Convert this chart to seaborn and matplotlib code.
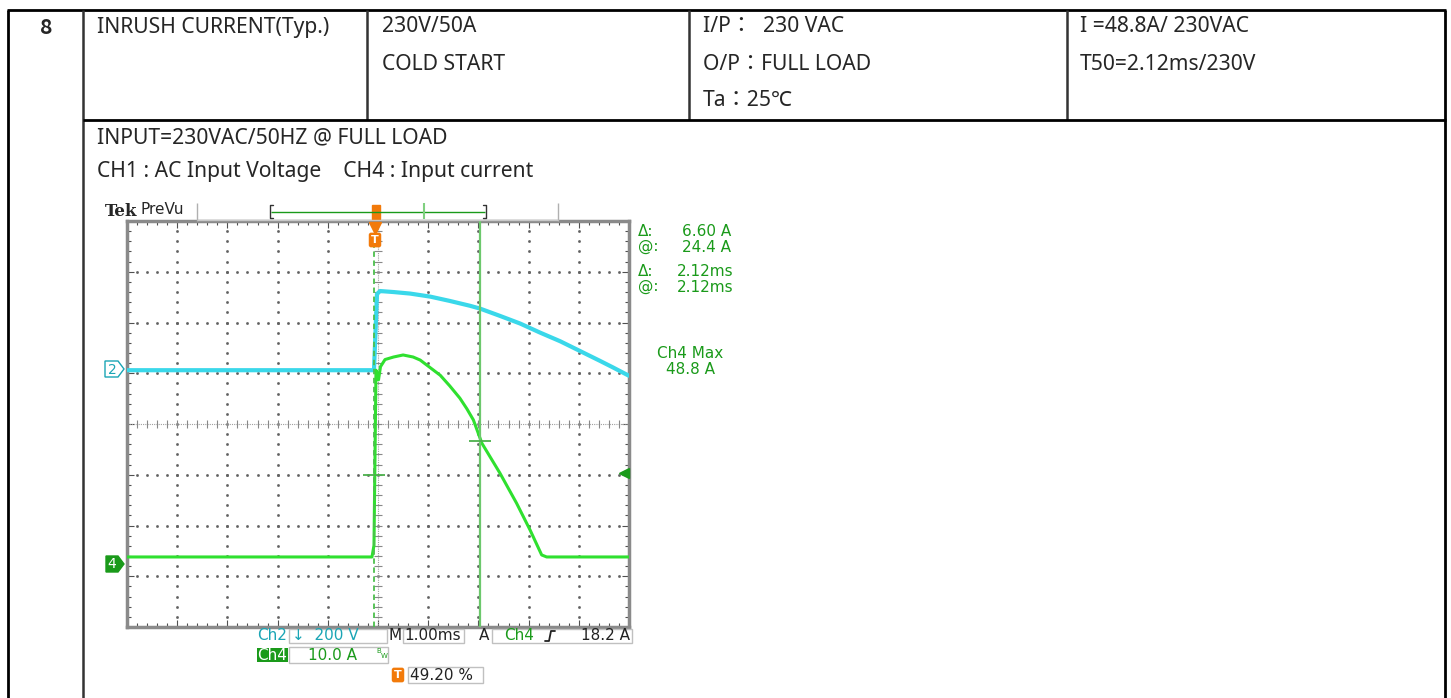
import numpy as np
import pandas as pd
import seaborn as sns
import matplotlib.pyplot as plt
from matplotlib.patches import Rectangle, Polygon

# Scope traces (time in ms relative to the trigger)
ch2_time_ms = [-4.92, -2.0, 0.0, 0.02, 0.06, 0.12, 0.39, 0.72, 1.12, 1.51, 1.91, 2.11,
               2.51, 2.91, 3.31, 3.71, 4.10, 4.50, 4.76, 5.08]
ch2_volts = [0, 0, 0, 100, 300, 312, 308, 302, 290, 273, 254, 243,
             214, 184, 148, 114, 76, 37, 11, -22]

ch4_time_ms = [-4.92, -0.04, 0.0, 0.04, 0.09, 0.13, 0.22, 0.39, 0.58, 0.78, 0.92, 1.12,
               1.32, 1.51, 1.71, 1.85, 1.98, 2.15, 2.51, 2.84, 3.11, 3.34, 3.44, 5.08]
ch4_amps = [1.6, 1.6, 3.9, 38.4, 36.5, 39.1, 40.5, 41.0, 41.4, 41.0, 40.4, 38.9,
            37.4, 35.3, 32.9, 30.8, 28.6, 24.0, 18.1, 12.2, 6.9, 2.0, 1.6, 1.6]

# Scope settings
ch2_scale = 200      # V/div
ch4_scale = 10       # A/div
ch2_pos = 1.06       # ground position, div
ch4_pos = -2.78
t_left, t_right = -4.92, 5.08
cursor_t = 2.12
cursor_amps = [24.4, 17.8]
trig_level = 18.2

# Table text
row_no = "8"
item = "INRUSH CURRENT(Typ.)"
spec = ["230V/50A", "COLD START"]
condition = ["I/P：  230 VAC", "O/P：FULL LOAD", "Ta：25℃"]
result = ["I =48.8A/ 230VAC", "T50=2.12ms/230V"]
notes = ["INPUT=230VAC/50HZ @ FULL LOAD", "CH1 : AC Input Voltage    CH4 : Input current"]

sns.set_style("white")
plt.rcParams['font.family'] = ['Noto Sans', 'Noto Sans CJK TC', 'DejaVu Sans']

fig = plt.figure(figsize=(14.51, 6.98), dpi=100)
fig.patch.set_facecolor('white')

# ---- oscilloscope screen ----
sc = fig.add_axes([127 / 1451, 71 / 698, 502 / 1451, 406 / 698])
sc.set_xlim(t_left, t_right)
sc.set_ylim(-4, 4)
sc.set_facecolor('white')

center_t = t_left + 5
dot_y = np.arange(-4, 4.01, 0.2)
dot_x = np.arange(t_left, t_right + 0.01, 0.2)
for k in range(1, 10):
    if k == 5:
        continue
    sc.plot(np.full(len(dot_y), t_left + k), dot_y, ls='none', marker='s', ms=0.9,
            color='#606060', zorder=1)
for k in range(-3, 4):
    if k == 0:
        continue
    sc.plot(dot_x, np.full(len(dot_x), k), ls='none', marker='s', ms=0.9,
            color='#606060', zorder=1)

# center cross with ticks
sc.axhline(0, color='#a0a0a0', lw=0.8, ls=(0, (1, 1)), zorder=1)
sc.axvline(center_t, color='#a0a0a0', lw=0.8, ls=(0, (1, 1)), zorder=1)
sc.plot(dot_x, np.zeros(len(dot_x)), ls='none', marker='|', ms=6, mew=0.8, color='#888888', zorder=1)
sc.plot(np.full(len(dot_y), center_t), dot_y, ls='none', marker='_', ms=6, mew=0.8, color='#888888', zorder=1)

# traces
df2 = pd.DataFrame({'t': ch2_time_ms, 'div': np.array(ch2_volts) / ch2_scale + ch2_pos})
df4 = pd.DataFrame({'t': ch4_time_ms, 'div': np.array(ch4_amps) / ch4_scale + ch4_pos})
sns.lineplot(data=df2, x='t', y='div', ax=sc, color='#3ad8ea', lw=3.0, sort=False,
             estimator=None, zorder=3)
sns.lineplot(data=df4, x='t', y='div', ax=sc, color='#2fe02f', lw=2.2, sort=False,
             estimator=None, zorder=4)

# cursors
sc.axvline(cursor_t, color='#6cc86c', lw=1.6, zorder=5)
sc.axvline(0, color='#4cbf4c', lw=1.3, ls=(0, (3, 2)), zorder=5)
sc.plot([cursor_t], [cursor_amps[0] / ch4_scale + ch4_pos], marker='_', ms=16, mew=1.3,
        color='#4cb04c', zorder=6)
sc.plot([0], [cursor_amps[1] / ch4_scale + ch4_pos], marker='_', ms=16, mew=1.3,
        color='#4cb04c', zorder=6)
sc.plot([t_right - 0.1], [trig_level / ch4_scale + ch4_pos], marker='<', ms=7,
        color='#1a9a1a', zorder=6, clip_on=False)

sc.set_xticks(np.arange(t_left, t_right + 0.01, 1.0))
sc.set_xticks(dot_x, minor=True)
sc.set_yticks(np.arange(-4, 4.01, 1.0))
sc.set_yticks(dot_y, minor=True)
sc.tick_params(which='both', direction='in', top=True, right=True, bottom=True, left=True,
               labelbottom=False, labelleft=False, color='#505050', width=0.8)
sc.tick_params(which='major', length=5)
sc.tick_params(which='minor', length=3)
sc.set_xlabel('')
sc.set_ylabel('')
for s in sc.spines.values():
    s.set_color('#8a8a8a')
    s.set_linewidth(2.5)

# ---- overlay in pixel coordinates ----
ov = fig.add_axes([0, 0, 1, 1])
ov.set_xlim(0, 1451)
ov.set_ylim(698, 0)
ov.axis('off')

# table
ov.hlines(10, 7, 1446, color='black', lw=2)
ov.vlines([8, 1445], 10, 698, color='black', lw=2)
ov.vlines(83, 10, 698, color='#333333', lw=1.8)
ov.vlines([367, 689, 1067], 10, 120, color='#333333', lw=1.8)
ov.hlines(120, 83, 1446, color='black', lw=2)

doc_fs = 15.2
ov.text(46, 27, row_no, ha='center', va='center', fontsize=doc_fs, fontweight='bold',
        family='Noto Sans CJK TC')
ov.text(97, 27, item, va='center', fontsize=doc_fs)
for i, s in enumerate(spec):
    ov.text(382, 27 + 37 * i, s, va='center', fontsize=doc_fs)
for i, s in enumerate(condition):
    ov.text(703, 27 + 37 * i, s, va='center', fontsize=doc_fs)
for i, s in enumerate(result):
    ov.text(1080, 27 + 37 * i, s, va='center', fontsize=doc_fs)
for i, s in enumerate(notes):
    ov.text(97, 138 + 33 * i, s, va='center', fontsize=doc_fs)

# scope header bar
mono = 'DejaVu Sans'
green = '#1a9a1a'
teal = '#1aa5b5'
orange = '#f27a0a'
ov.text(105, 211, "Tek", va='center', fontsize=12, fontweight='bold', family='DejaVu Serif')
ov.text(140, 210, "PreVu", va='center', fontsize=11, family=mono)
ov.vlines([197, 558], 203, 221, color='#b0b0b0', lw=1)
ov.hlines(220, 197, 558, color='#c8c8c8', lw=1)
ov.plot([273, 270, 270, 273], [205, 205, 218, 218], color='#333333', lw=1)
ov.plot([483, 486, 486, 483], [205, 205, 218, 218], color='#333333', lw=1)
ov.hlines(212, 271, 485, color=green, lw=1)
ov.vlines(424, 203, 219, color='#80d080', lw=1.5)
ov.add_patch(Rectangle((372, 205), 8, 14, color=orange))

# trigger marker at top of screen
ov.plot([375], [228], marker='v', ms=8, color=orange, clip_on=False)
ov.text(375, 240, "T", ha='center', va='center', fontsize=8, color='white', fontweight='bold',
        family=mono, bbox=dict(boxstyle='round,pad=0.15', fc=orange, ec=orange))

# channel ground markers
ov.add_patch(Polygon([(105, 361), (118, 361), (124, 369), (118, 377), (105, 377)],
                     closed=True, fc='white', ec=teal, lw=1))
ov.text(112, 369.5, "2", ha='center', va='center', fontsize=10, color=teal, family=mono)
ov.add_patch(Polygon([(106, 556), (118, 556), (124, 564), (118, 572), (106, 572)],
                     closed=True, fc=green, ec=green, lw=1))
ov.text(112, 564.5, "4", ha='center', va='center', fontsize=10, color='white', family=mono)

# cursor readouts
readout_fs = 11
ov.text(638, 231, "Δ:", va='center', fontsize=readout_fs, color=green, family=mono)
ov.text(731, 231, "6.60 A", va='center', ha='right', fontsize=readout_fs, color=green, family=mono)
ov.text(638, 247, "@:", va='center', fontsize=readout_fs, color=green, family=mono)
ov.text(731, 247, "24.4 A", va='center', ha='right', fontsize=readout_fs, color=green, family=mono)
ov.text(638, 272, "Δ:", va='center', fontsize=readout_fs, color=green, family=mono)
ov.text(733, 272, "2.12ms", va='center', ha='right', fontsize=readout_fs, color=green, family=mono)
ov.text(638, 287, "@:", va='center', fontsize=readout_fs, color=green, family=mono)
ov.text(733, 287, "2.12ms", va='center', ha='right', fontsize=readout_fs, color=green, family=mono)
ov.text(690, 353, "Ch4 Max", va='center', ha='center', fontsize=readout_fs, color=green, family=mono)
ov.text(691, 369, "48.8 A", va='center', ha='center', fontsize=readout_fs, color=green, family=mono)

# bottom settings boxes
box_ec = '#c0c0c0'
ov.add_patch(Rectangle((289, 629), 98, 14, fc='none', ec=box_ec, lw=1))
ov.add_patch(Rectangle((403, 629), 61, 14, fc='none', ec=box_ec, lw=1))
ov.add_patch(Rectangle((492, 629), 140, 14, fc='none', ec=box_ec, lw=1))
ov.add_patch(Rectangle((289, 647), 99, 16, fc='none', ec=box_ec, lw=1))
ov.add_patch(Rectangle((408, 667), 75, 16, fc='none', ec=box_ec, lw=1))
ov.add_patch(Rectangle((257, 648), 31, 14, fc=green, ec=green, lw=0))

ov.text(272, 636, "Ch2", ha='center', va='center', fontsize=readout_fs, color=teal, family=mono)
ov.text(292, 636, "↓  200 V", va='center', fontsize=readout_fs, color=teal, family=mono)
ov.text(395, 636, "M", ha='center', va='center', fontsize=readout_fs, color='#222222', family=mono)
ov.text(433, 636, "1.00ms", ha='center', va='center', fontsize=readout_fs, color='#222222', family=mono)
ov.text(484, 636, "A", ha='center', va='center', fontsize=readout_fs, color='#222222', family=mono)
ov.text(519, 636, "Ch4", ha='center', va='center', fontsize=readout_fs, color=green, family=mono)
ov.plot([545, 549, 551, 555], [641, 641, 631, 631], color='#222222', lw=1.3)
ov.text(630, 636, "18.2 A", ha='right', va='center', fontsize=readout_fs, color='#222222', family=mono)

ov.text(272, 655, "Ch4", ha='center', va='center', fontsize=readout_fs, color='white', family=mono)
ov.text(333, 655, "10.0 A", ha='center', va='center', fontsize=readout_fs, color=green, family=mono)
ov.text(379, 651, "B", ha='center', va='center', fontsize=5, color=green, family=mono)
ov.text(384, 656, "W", ha='center', va='center', fontsize=5, color=green, family=mono)

ov.text(398, 675, "T", ha='center', va='center', fontsize=8, color='white', fontweight='bold',
        family=mono, bbox=dict(boxstyle='round,pad=0.15', fc=orange, ec=orange))
ov.text(441, 675, "49.20 %", ha='center', va='center', fontsize=readout_fs, color='#222222', family=mono)

plt.savefig('out.png', dpi=100)
plt.close()
